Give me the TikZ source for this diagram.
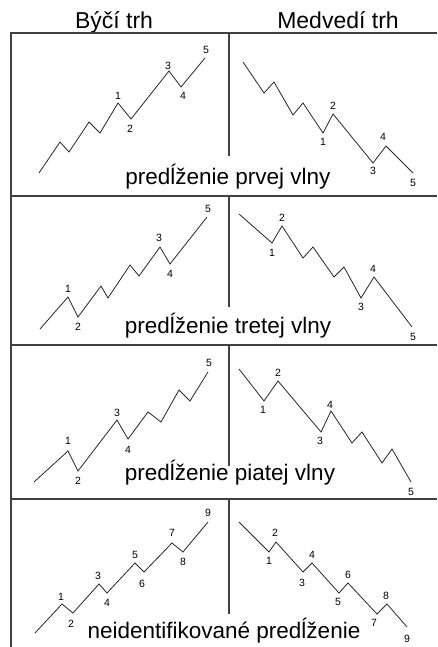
\documentclass[tikz,border=0pt]{standalone}
\usepackage{fontspec}
\setmainfont{Liberation Sans}
\usetikzlibrary{positioning}
\tikzset{
  gridline/.style={draw=black!75, line width=1.8pt},
  divider/.style={draw=black!75, line width=1.5pt},
  wave/.style={draw=black!85, line width=0.8pt, line join=miter},
  num/.style={font=\fontsize{10.5}{12}\selectfont, inner sep=0pt},
  headtext/.style={font=\fontsize{23}{27}\selectfont, anchor=base, inner sep=0pt},
  captext/.style={font=\fontsize{22.5}{26}\selectfont, anchor=base, inner sep=0pt},
}

\begin{document}
\begin{tikzpicture}[x=1pt, y=-1pt]
  \useasboundingbox (0,0) rectangle (437,647);
  % headings
  \node[headtext] (bull) at (114,29) {Býčí trh};
  \node[headtext] (bear) at (338,29) {Medvedí trh};
  % table lines
  \draw[gridline] (11,647) -- (11,33) -- (437,33);
  \foreach \y in {196,345,499}
    {\draw[gridline] (11,\y) -- (437,\y);}
  \foreach \a/\b in {33/156,196/307,345/466,499/614}
    {\draw[divider] (229,\a) -- (229,\b);}

  % row 1
  \draw[wave] (39,173) -- (60,142) -- (69,152) -- (89,122) -- (100,133) -- (118,103)
    -- (131,119) -- (169,71) -- (181,87) -- (205,58);
  \foreach \x/\y/\t in {118/96/1,130/129/2,168/66/3,183/96/4,206/50/5}
    {\node[num] at (\x,\y) {\t};}
  \draw[wave] (243,62) -- (264,93) -- (274,82) -- (293,115) -- (303,103) -- (323,133)
    -- (333,114) -- (373,163) -- (386,146) -- (413,173);
  \foreach \x/\y/\t in {323/142/1,333/106/2,373/171/3,383/137/4,413/183/5}
    {\node[num] at (\x,\y) {\t};}
  \node[captext] (cap1) at (228,185) {predĺženie prvej vlny};

  % row 2
  \draw[wave] (40,329) -- (68,297) -- (78,317) -- (101,286) -- (108,298) -- (130,265)
    -- (139,276) -- (160,247) -- (170,264) -- (207,217);
  \foreach \x/\y/\t in {68/289/1,78/327/2,159/238/3,170/274/4,208/209/5}
    {\node[num] at (\x,\y) {\t};}
  \draw[wave] (239,214) -- (272,243) -- (282,226) -- (303,258) -- (313,247) -- (334,277)
    -- (344,267) -- (361,298) -- (374,277) -- (412,327);
  \foreach \x/\y/\t in {272/253/1,282/218/2,361/307/3,373/269/4,413/337/5}
    {\node[num] at (\x,\y) {\t};}
  \node[captext] (cap2) at (228,333) {predĺženie tretej vlny};

  % row 3
  \draw[wave] (34,482) -- (68,451) -- (78,471) -- (117,420) -- (128,439) -- (148,412)
    -- (161,422) -- (179,390) -- (190,401) -- (208,372);
  \foreach \x/\y/\t in {68/441/1,78/481/2,117/413/3,128/450/4,209/363/5}
    {\node[num] at (\x,\y) {\t};}
  \draw[wave] (239,369) -- (264,401) -- (278,381) -- (321,432) -- (331,411) -- (352,443)
    -- (362,432) -- (382,463) -- (392,449) -- (411,482);
  \foreach \x/\y/\t in {263/410/1,278/373/2,320/441/3,330/405/4,411/492/5}
    {\node[num] at (\x,\y) {\t};}
  \node[captext] (cap3) at (230,480) {predĺženie piatej vlny};

  % row 4
  \draw[wave] (35,633) -- (62,604) -- (73,613) -- (99,584) -- (107,593) -- (135,563)
    -- (144,572) -- (172,543) -- (183,552) -- (208,522);
  \foreach \x/\y/\t in {61/597/1,71/624/2,98/576/3,107/603/4,135/555/5,142/584/6,172/533/7,183/562/8,208/513/9}
    {\node[num] at (\x,\y) {\t};}
  \draw[wave] (239,522) -- (269,552) -- (276,542) -- (303,572) -- (312,563) -- (339,593)
    -- (348,583) -- (377,614) -- (387,604) -- (407,627);
  \foreach \x/\y/\t in {269/561/1,275/533/2,302/583/3,312/555/4,338/602/5,348/575/6,374/623/7,386/596/8,407/639/9}
    {\node[num] at (\x,\y) {\t};}
  \node[captext] (cap4) at (224,638) {neidentifikované predĺženie};
\end{tikzpicture}
\end{document}
